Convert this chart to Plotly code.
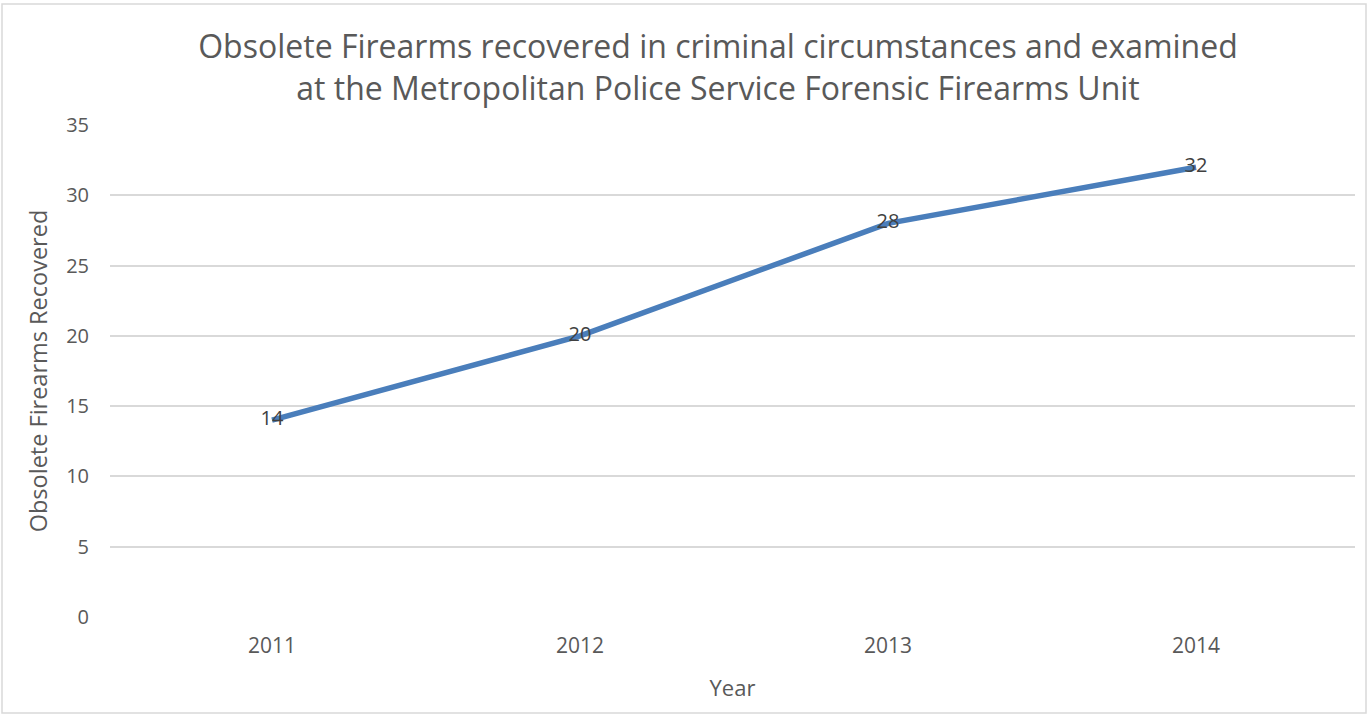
import plotly.graph_objects as go

years = ["2011", "2012", "2013", "2014"]
recovered = [14, 20, 28, 32]
y_ticks = [0, 5, 10, 15, 20, 25, 30, 35]

W, H = 1370, 716
ml, mr, mt, mb = 110, 15, 125, 99
pw, ph = W - ml - mr, H - mt - mb
FONT = "Open Sans, sans-serif"

fig = go.Figure()
fig.add_trace(go.Scatter(
    x=years, y=recovered, mode="lines+text",
    text=[str(v) for v in recovered], textposition="middle center",
    textfont=dict(family=FONT, size=20, color="#404040"),
    line=dict(color="#4A7EBB", width=5.5),
    cliponaxis=False, showlegend=False, hoverinfo="skip",
))

def px_x(p):
    return (p - ml) / pw

def px_y(p):
    return 1 - (p - mt) / ph

fig.update_layout(
    width=W, height=H,
    margin=dict(l=ml, r=mr, t=mt, b=mb),
    paper_bgcolor="white", plot_bgcolor="white",
    font=dict(family=FONT, color="#595959"),
    title=dict(
        text="Obsolete Firearms recovered in criminal circumstances and examined<br>at the Metropolitan Police Service Forensic Firearms Unit",
        x=718 / W, xanchor="center", y=1 - 58 / H, yanchor="middle",
        font=dict(size=32, color="#595959"),
    ),
    xaxis=dict(
        type="category", range=[-0.526, 3.516],
        showgrid=False, zeroline=False, showline=False, ticks="",
        tickfont=dict(size=21, color="#595959"), ticklabelstandoff=14,
        title=dict(text="Year", font=dict(size=22, color="#595959"), standoff=22),
    ),
    yaxis=dict(
        range=[0, 35], tickvals=y_ticks,
        showgrid=True, gridcolor="#D9D9D9", gridwidth=1.5,
        zeroline=False, showline=False, ticks="",
        tickfont=dict(size=20, color="#595959"), ticklabelstandoff=20,
        title=dict(text="Obsolete Firearms Recovered", font=dict(size=23.5, color="#595959"), standoff=11),
    ),
    shapes=[dict(
        type="rect", xref="paper", yref="paper",
        x0=px_x(2), x1=px_x(1366), y0=px_y(713), y1=px_y(4),
        line=dict(color="#D9D9D9", width=1.5), fillcolor="rgba(0,0,0,0)", layer="below",
    )],
)

fig.write_html("out.html", config={"displayModeBar": False},
               post_script="document.body.style.margin='0';")
